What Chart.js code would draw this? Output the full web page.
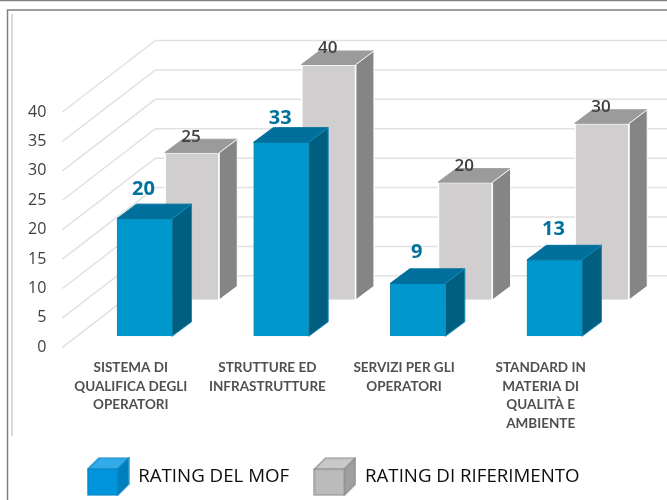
<!DOCTYPE html>
<html>
<head>
<meta charset="utf-8">
<style>
  html, body { margin: 0; padding: 0; background: #fff; }
  #wrap { width: 667px; height: 500px; }
</style>
<script src="https://cdn.jsdelivr.net/npm/chart.js@4"></script>
</head>
<body>
<div id="wrap"><canvas id="graph" width="667" height="500"></canvas></div>
<script>
const categories = [
  ["SISTEMA DI", "QUALIFICA DEGLI", "OPERATORI"],
  ["STRUTTURE ED", "INFRASTRUTTURE"],
  ["SERVIZI PER GLI", "OPERATORI"],
  ["STANDARD IN", "MATERIA DI", "QUALITÀ E", "AMBIENTE"]
];
const ratingMof = [20, 33, 9, 13];
const ratingRif = [25, 40, 20, 30];

// 3D look: how far each series is pushed back, and how deep its boxes are
const look = [
  { shift: [13.8, -11], depth: [19.5, -14.5], top: "#006f9b", side: "#005f80", label: "#00729b", font: "bold 20px 'Open Sans'", edge: "#1a8db8" },
  { shift: [61.3, -47.5], depth: [18, -13.5], top: "#9c9b9b", side: "#868585", label: "#404040", font: "600 17px 'Open Sans'", edge: "#ffffff" }
];
const blueLabelLift = [29, 23.5, 31, 31];
const greyLabelLift = 16;

function cube(front, top, side, line) {
  const c = document.createElement("canvas");
  c.width = 43;
  c.height = 39;
  const g = c.getContext("2d");
  g.strokeStyle = line;
  g.lineWidth = 1.2;
  const face = (pts, color) => {
    g.beginPath();
    pts.forEach((p, i) => i ? g.lineTo(p[0], p[1]) : g.moveTo(p[0], p[1]));
    g.closePath();
    g.fillStyle = color;
    g.fill();
    g.stroke();
  };
  face([[1, 12], [12, 1], [42, 1], [31, 12]], top);
  face([[31, 12], [42, 1], [42, 27], [31, 38]], side);
  face([[1, 12], [31, 12], [31, 38], [1, 38]], front);
  return c;
}

const legendCubes = [
  cube("#0095dc", "#33abeb", "#007fbf", "#0a83c0"),
  cube("#bbbbbb", "#c9c9c9", "#a0a0a0", "#8c8c8c")
];

const frame = {
  id: "frame",
  beforeDraw(c) {
    const g = c.ctx;
    g.save();
    g.strokeStyle = "#808080";
    g.lineWidth = 1.5;
    g.beginPath();
    g.moveTo(0, 0.5);
    g.lineTo(667, 0.5);
    g.moveTo(667, 10);
    g.lineTo(7.5, 10);
    g.lineTo(7.5, 500);
    g.stroke();
    g.strokeStyle = "#d9d9d9";
    g.lineWidth = 2;
    g.beginPath();
    g.moveTo(12, 14);
    g.lineTo(12, 436);
    g.stroke();
    g.restore();
  }
};

// Gridlines run up the side wall and along the back wall
const walls = {
  id: "walls",
  beforeDatasetsDraw(c) {
    const g = c.ctx;
    const y = c.scales.y;
    const left = c.chartArea.left;
    g.save();
    g.strokeStyle = "#e1e1e1";
    g.lineWidth = 1.5;
    y.ticks.forEach(t => {
      const py = y.getPixelForValue(t.value);
      g.beginPath();
      g.moveTo(left, py);
      g.lineTo(left + 93, py - 71.5);
      g.lineTo(667, py - 71.5);
      g.stroke();
    });
    g.restore();
  }
};

function poly(g, pts, color, edge) {
  g.beginPath();
  pts.forEach((p, i) => i ? g.lineTo(p[0], p[1]) : g.moveTo(p[0], p[1]));
  g.closePath();
  g.fillStyle = color;
  g.fill();
  g.strokeStyle = edge;
  g.lineWidth = 1;
  g.stroke();
}

const boxes = {
  id: "boxes",
  beforeDatasetDraw(c, args) {
    const s = look[args.index].shift;
    c.ctx.save();
    c.ctx.translate(s[0], s[1]);
  },
  afterDatasetDraw(c, args) {
    const g = c.ctx;
    const k = look[args.index];
    const dx = k.depth[0], dy = k.depth[1];
    args.meta.data.forEach(b => {
      const l = b.x - b.width / 2, r = b.x + b.width / 2;
      poly(g, [[l, b.y], [l + dx, b.y + dy], [r + dx, b.y + dy], [r, b.y]], k.top, k.top);
      poly(g, [[r, b.y], [r + dx, b.y + dy], [r + dx, b.base + dy], [r, b.base]], k.side, k.edge);
    });
    g.restore();
  },
  afterDatasetsDraw(c) {
    const g = c.ctx;
    g.save();
    g.textAlign = "center";
    g.textBaseline = "middle";
    c.data.datasets.forEach((ds, di) => {
      const k = look[di];
      g.font = k.font;
      g.fillStyle = k.label;
      c.getDatasetMeta(di).data.forEach((b, i) => {
        const lift = di === 0 ? blueLabelLift[i] : greyLabelLift;
        g.fillText(ds.data[i], b.x + k.shift[0] - 1, b.y + k.shift[1] - lift);
      });
    });
    g.restore();
  }
};

new Chart(document.getElementById("graph"), {
  type: "bar",
  data: {
    labels: categories,
    datasets: [
      { label: "RATING DEL MOF", data: ratingMof, backgroundColor: "#0098cc", borderColor: look[0].edge, borderWidth: 1, barThickness: 55, pointStyle: legendCubes[0] },
      { label: "RATING DI RIFERIMENTO", data: ratingRif, backgroundColor: "#d0cece", borderColor: look[1].edge, borderWidth: 1.5, barThickness: 54.5, pointStyle: legendCubes[1] }
    ]
  },
  options: {
    responsive: false,
    animation: false,
    layout: { padding: { top: 112, left: 0, right: 0, bottom: 4 } },
    datasets: { bar: { grouped: false } },
    plugins: {
      tooltip: { enabled: false },
      legend: {
        position: "bottom",
        labels: {
          usePointStyle: true,
          pointStyleWidth: 41.5,
          boxHeight: 18,
          padding: 25,
          color: "#0d0d0d",
          font: { family: "'Open Sans'", size: 18.7 },
          generateLabels(c) {
            return c.data.datasets.map((d, i) => ({
              text: d.label,
              pointStyle: legendCubes[i],
              datasetIndex: i,
              fontColor: "#0d0d0d",
              lineWidth: 0
            }));
          }
        }
      }
    },
    scales: {
      x: {
        grid: { display: false },
        border: { display: false },
        afterFit(s) { s.height = 95; },
        ticks: {
          autoSkip: false,
          maxRotation: 0,
          padding: 3,
          color: "#505050",
          font: { family: "Lato", weight: "bold", size: 13.5, lineHeight: 1.385 }
        }
      },
      y: {
        min: 0,
        max: 40,
        grid: { display: false },
        border: { display: false },
        afterFit(s) { s.width = 62.4; },
        ticks: {
          stepSize: 5,
          padding: 8,
          color: "#404040",
          font: { family: "'Open Sans'", size: 16 }
        }
      },
      // empty axis, only reserves the right margin so the legend stays centred on the page
      spacer: {
        position: "right",
        grid: { display: false },
        border: { display: false },
        ticks: { display: false },
        afterFit(s) { s.width = 58; }
      }
    }
  },
  plugins: [frame, walls, boxes]
});
</script>
</body>
</html>
